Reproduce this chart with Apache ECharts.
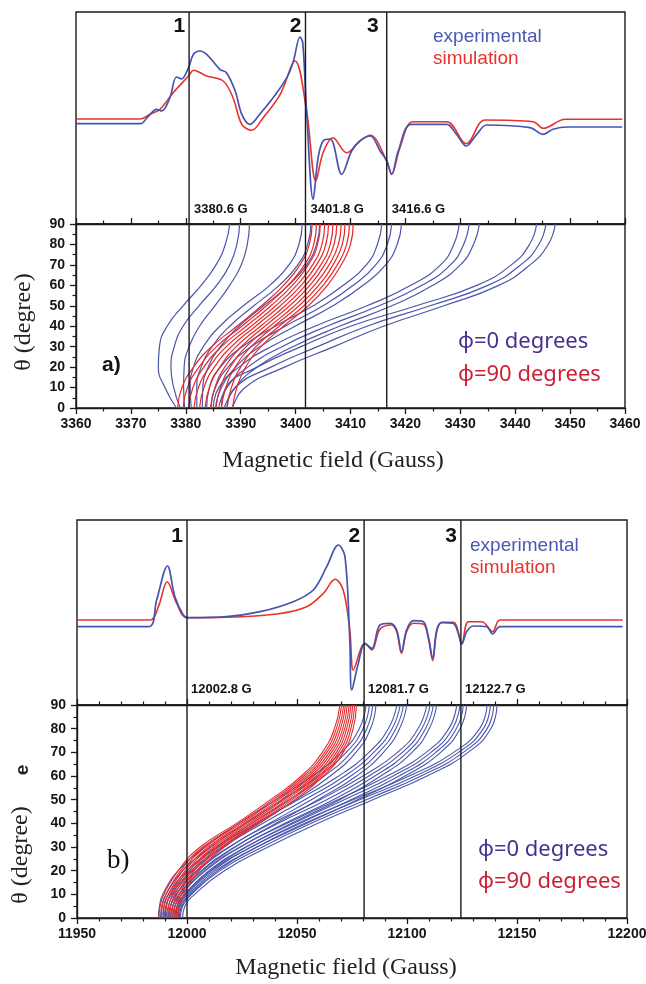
<!DOCTYPE html>
<html><head><meta charset="utf-8">
<script src="https://cdn.jsdelivr.net/npm/echarts@6/dist/echarts.min.js"></script>
<style>html,body{margin:0;padding:0;background:#fff}#c{width:646px;height:984px}</style>
</head><body><div id="c"></div>
<script>
// ---------- DATA ----------
// Panel a spectrum (field in G, intensity arb. units)
const specAExpField = [3360,3371.7,3373.2,3374.7,3375.6,3377.1,3378.3,3379.2,3380.5,3381.4,3382.6,3383.8,3386.2,3387.4,3389,3390.2,3391.7,3393.5,3395.9,3398.4,3399.6,3400.8,3401.3,3402.0,3403.2,3404.1,3405.0,3406.3,3408.4,3410.2,3411.7,3413.6,3415.4,3416.6,3417.5,3418.7,3421.1,3427.5,3429.3,3431.1,3433,3434.8,3442.7,3445.1,3446.9,3449.4,3459.5];
const specAExp = [100.3,100.3,108,114.7,113,126.3,147,145,156.3,169.7,173,169.7,154.7,151.3,133,109.7,99.7,110,126.3,146.3,163,187,181.3,113,24.7,66.3,83,85,49.7,73,83,88,73,63,49.7,73,99.7,99.7,89.7,78,89.7,99,96.3,89.7,94.7,97,97];
const specASimField = [3360,3371.7,3373.5,3375.3,3377.7,3380.5,3381.4,3383.8,3386.8,3388.6,3390.2,3392,3394.1,3397.2,3399.9,3402,3403.7,3405,3406.8,3409.3,3411.7,3413.6,3416.6,3417.5,3419,3421.4,3427.5,3431.1,3434.5,3443.3,3445.1,3449.1,3459.5];
const specASim = [105,105,109.7,114.7,131.3,148,153.7,148,143,126.3,99.7,93.7,106.3,129.7,163,113,43,71.3,86.3,71.3,83,88.7,63,49.7,76.3,102.3,102.3,80.3,104,102.3,95.7,104.7,104.7];

// Panel b spectrum
const specBExpField = [11950,11982.4,11986.2,11991.1,11994.5,11998.3,12000.6,12018,12033.2,12048.3,12057.4,12063.5,12068.8,12071.8,12074,12074.9,12077.9,12080.9,12084,12087.7,12092.3,12095.3,12097.5,12099.8,12102.9,12107.4,12109.7,12111.7,12113.5,12115.8,12121,12123.3,12124.9,12127.1,12130.1,12136.2,12138.9,12142.3,12198];
const specBExp = [78.3,78.3,105,139,108.3,90,87.3,88.3,93.3,103.3,115,138.3,160,148.3,65,15,42,61.7,56.7,80,81.7,75,53.3,75,84.3,83.3,68.3,46.7,75,82.3,81.7,71.7,61,73.3,79,78.3,71,78.3,78.3];
const specBSimField = [11950,11983.2,11987,11991,11995.3,11999.9,12018,12040.8,12054.4,12062,12067.3,12071,12074,12075.6,12079.4,12080.9,12084,12087.7,12093,12095.3,12097.5,12099.8,12102.9,12107.4,12109.7,12111.7,12113.5,12115.8,12121.3,12124.9,12127.9,12134,12138.9,12142.3,12198];
const specBSim = [85,85,98.3,123.3,101.7,87.3,87.7,91,98.3,111.7,125.7,115,75,35,58.3,61,55,75.7,80,73.3,51.7,73.3,81.7,81,66.7,44.3,73.3,82.7,82.7,61,83.3,83.3,73.3,85,85];

// Angular dependence: theta samples and resonance fields for each curve
const thetaA = [0,10,20,30,40,50,60,70,80,90];
const blueCurvesA = [
 [3378.3,3376.2,3375.0,3375.2,3376.6,3379.5,3382.8,3385.5,3387.2,3388.0],
 [3379.0,3377.8,3377.3,3377.9,3379.5,3382.4,3385.6,3388.0,3389.3,3389.8],
 [3379.8,3379.6,3379.7,3380.6,3382.5,3385.3,3388.0,3390.1,3391.2,3391.6],
 [3381.0,3380.8,3381.4,3383.2,3386.2,3390.5,3395.3,3398.8,3400.6,3401.2],
 [3382.0,3382.0,3382.8,3384.8,3388.0,3392.4,3397.0,3400.4,3402.2,3402.8],
 [3383.0,3383.1,3384.1,3386.3,3389.7,3394.2,3398.7,3402.0,3403.8,3404.4],
 [3383.8,3384.3,3386.3,3390.3,3396.3,3403.2,3408.7,3412.9,3414.9,3415.7],
 [3384.6,3385.4,3387.7,3391.9,3398.1,3405.0,3410.5,3414.6,3416.7,3417.5],
 [3385.4,3386.5,3389.1,3393.5,3399.9,3406.8,3412.3,3416.4,3418.5,3419.3],
 [3385.0,3386.0,3389.7,3395.5,3403.5,3413.0,3421.0,3426.4,3428.8,3429.8],
 [3386.0,3387.5,3391.3,3397.5,3405.7,3415.2,3423.0,3428.2,3430.6,3431.6],
 [3387.0,3389.0,3393.0,3399.5,3408.0,3417.5,3425.0,3430.0,3432.4,3433.5],
 [3386.5,3387.3,3393.0,3401.0,3410.0,3422.0,3433.0,3439.3,3442.6,3443.9],
 [3387.5,3389.0,3395.5,3404.0,3413.0,3424.5,3435.0,3441.0,3444.3,3445.6],
 [3388.5,3390.8,3398.0,3407.0,3416.0,3427.0,3437.0,3442.7,3446.0,3447.3]
];
const redCurvesA = [
 [3378.5,3379.3,3381.4,3384.7,3389.3,3393.8,3397.8,3400.8,3402.5,3403.0],
 [3379.5,3380.3,3382.4,3385.6,3390.2,3394.7,3398.6,3401.6,3403.3,3403.8],
 [3380.5,3381.3,3383.3,3386.5,3391.0,3395.5,3399.4,3402.3,3404.0,3404.5],
 [3381.5,3382.3,3384.3,3387.4,3391.9,3396.4,3400.2,3403.1,3404.8,3405.3],
 [3382.5,3383.3,3385.2,3388.3,3392.7,3397.2,3401.0,3403.8,3405.5,3406.0],
 [3383.5,3384.3,3386.2,3389.2,3393.6,3398.1,3401.8,3404.6,3406.3,3406.8],
 [3384.5,3385.3,3387.1,3390.1,3394.4,3398.9,3402.6,3405.3,3407.0,3407.5],
 [3385.5,3386.3,3388.1,3391.0,3395.3,3399.8,3403.4,3406.1,3407.8,3408.3],
 [3386.5,3387.3,3389.0,3391.9,3396.1,3400.6,3404.2,3406.8,3408.5,3409.0],
 [3387.5,3388.3,3390.0,3392.8,3397.0,3401.5,3405.0,3407.6,3409.3,3409.8],
 [3388.5,3389.3,3390.9,3393.7,3397.8,3402.3,3405.8,3408.3,3410.0,3410.5]
];

const thetaB = [0,5,10,20,30,40,50,60,70,80,90];
const blueCurvesB = [
 [11987.0,11987.5,11989.0,11996.0,12008.1,12023.5,12040.5,12057.0,12070.2,12078.3,12081.4],
 [11988.0,11988.5,11990.4,11998.0,12010.7,12026.5,12043.5,12059.7,12072.4,12080.0,12082.9],
 [11989.0,11989.5,11991.6,12000.0,12013.3,12029.5,12046.5,12062.4,12074.6,12081.7,12084.4],
 [11990.0,11990.5,11993.0,12002.0,12015.9,12032.5,12049.5,12065.1,12076.8,12083.4,12085.9],
 [11989.5,11990.5,11992.5,12001.0,12014.1,12031.5,12050.5,12069.0,12082.7,12091.5,12095.4],
 [11990.5,11991.5,11993.9,12003.0,12016.7,12034.5,12053.5,12071.7,12084.9,12093.2,12096.9],
 [11991.5,11992.5,11995.2,12005.0,12019.3,12037.5,12056.5,12074.4,12087.1,12094.9,12098.4],
 [11992.5,11993.5,11996.5,12007.0,12021.9,12040.5,12059.5,12077.1,12089.3,12096.6,12099.9],
 [11991.5,11992.5,11995.0,12004.5,12019.1,12038.5,12060.5,12080.0,12095.7,12105.0,12109.0],
 [11992.5,11993.5,11996.4,12006.5,12021.7,12041.5,12063.5,12082.7,12097.9,12106.7,12110.5],
 [11993.5,11994.5,11997.6,12008.5,12024.3,12044.5,12066.5,12085.4,12100.1,12108.4,12112.0],
 [11994.5,11995.5,11999.0,12010.5,12026.9,12047.5,12069.5,12088.1,12102.3,12110.1,12113.5],
 [11993.5,11994.5,11997.5,12008.0,12024.1,12045.5,12068.5,12091.0,12108.7,12119.0,12122.6],
 [11994.5,11995.5,11998.9,12010.0,12026.7,12048.5,12071.5,12093.7,12110.9,12120.7,12124.1],
 [11995.5,11996.5,12000.1,12012.0,12029.3,12051.5,12074.5,12096.4,12113.1,12122.4,12125.6],
 [11996.5,11997.5,12001.5,12014.0,12031.9,12054.5,12077.5,12099.1,12115.3,12124.1,12127.1],
 [11995.0,11996.0,11999.5,12011.0,12029.1,12050.5,12075.5,12101.0,12121.2,12133.0,12136.4],
 [11996.0,11997.0,12000.9,12013.0,12031.7,12053.5,12078.5,12103.7,12123.4,12134.7,12137.9],
 [11997.0,11998.0,12002.1,12015.0,12034.3,12056.5,12081.5,12106.4,12125.6,12136.4,12139.4],
 [11998.0,11999.0,12003.5,12017.0,12036.9,12059.5,12084.5,12109.1,12127.8,12138.1,12140.9]
];
const redCurvesB = [
 [11987.3,11987.8,11989.5,11996.0,12006.0,12022.5,12038.0,12052.0,12061.5,12067.0,12069.5],
 [11988.3,11988.8,11990.5,11997.1,12007.2,12023.7,12039.2,12053.1,12062.6,12067.9,12070.3],
 [11989.2,11989.7,11991.5,11998.1,12008.4,12024.8,12040.4,12054.2,12063.6,12068.9,12071.2],
 [11990.2,11990.7,11992.5,11999.2,12009.7,12026.0,12041.7,12055.3,12064.7,12069.8,12072.0],
 [11991.2,11991.7,11993.5,12000.2,12010.9,12027.2,12042.9,12056.4,12065.7,12070.8,12072.8],
 [11992.1,11992.6,11994.5,12001.3,12012.1,12028.3,12044.1,12057.6,12066.8,12071.7,12073.7],
 [11993.1,11993.6,11995.5,12002.4,12013.3,12029.5,12045.3,12058.7,12067.9,12072.6,12074.5],
 [11994.1,11994.6,11996.5,12003.4,12014.6,12030.7,12046.6,12059.8,12068.9,12073.6,12075.3],
 [11995.0,11995.5,11997.5,12004.5,12015.8,12031.8,12047.8,12060.9,12070.0,12074.5,12076.2],
 [11996.0,11996.5,11998.5,12005.5,12017.0,12033.0,12049.0,12062.0,12071.0,12075.5,12077.0]
];

// Marker lines and their labels
const linesA = [3380.6, 3401.8, 3416.6];
const lineLabelsA = ['3380.6 G', '3401.8 G', '3416.6 G'];
const linesB = [12000, 12080.5, 12124.5];
const lineLabelsB = ['12002.8 G', '12081.7 G', '12122.7 G'];
const peakNames = ['1', '2', '3'];

// ---------- STYLE ----------
const C_BLUE = '#4654b0', C_RED = '#e8322c';
const C_TBLUE = '#4a56aa', C_TRED = '#e62a2c';
const AX = '#1a1a1a';
const tickFont = {fontFamily:'Liberation Sans', fontSize:14, fontWeight:'bold', color:'#151515', formatter:function(v){return String(v);}};

const chart = echarts.init(document.getElementById('c'), null, {renderer:'canvas'});

function zipXY(xs, ys){ return xs.map((x,i)=>[x, ys[i]]); }
function curveData(fields, thetas){ return fields.map((f,i)=>[f, thetas[i]]); }

function bottomAxis(grid, min, max, interval, minorSplit){
  return {type:'value', gridIndex:grid, min:min, max:max, interval:interval, position:'bottom',
    axisLine:{show:true, onZero:false, lineStyle:{color:AX, width:1.4}},
    axisTick:{show:true, inside:false, length:6, lineStyle:{color:AX, width:1.3}},
    minorTick:{show:true, splitNumber:minorSplit, length:3.5, lineStyle:{color:AX, width:1.2}},
    axisLabel:Object.assign({margin:9, showMinLabel:true, showMaxLabel:true, hideOverlap:false}, tickFont),
    splitLine:{show:false}};
}
function topAxis(grid, min, max, interval, minorSplit){
  return {type:'value', gridIndex:grid, min:min, max:max, interval:interval, position:'top',
    axisLine:{show:true, onZero:false, lineStyle:{color:AX, width:1.4}},
    axisTick:{show:true, inside:false, length:6, lineStyle:{color:AX, width:1.3}},
    minorTick:{show:true, splitNumber:minorSplit, length:3.5, lineStyle:{color:AX, width:1.2}},
    axisLabel:{show:false}, splitLine:{show:false}};
}
function hiddenX(grid, min, max){ return {type:'value', gridIndex:grid, min:min, max:max, show:false, splitLine:{show:false}}; }
function hiddenY(grid, min, max){ return {type:'value', gridIndex:grid, min:min, max:max, show:false, splitLine:{show:false}}; }
function thetaAxis(grid){
  return {type:'value', gridIndex:grid, min:0, max:90, interval:10,
    axisLine:{show:true, onZero:false, lineStyle:{color:AX, width:1.4}},
    axisTick:{show:true, inside:false, length:6, lineStyle:{color:AX, width:1.3}},
    minorTick:{show:true, splitNumber:2, length:3.5, lineStyle:{color:AX, width:1.2}},
    axisLabel:Object.assign({margin:11}, tickFont), splitLine:{show:false}};
}

const gridBox = {show:true, borderColor:AX, borderWidth:1.4, backgroundColor:'transparent', containLabel:false, outerBoundsMode:'none'};
const series = [];
function addLine(xi, yi, data, color, width, smooth, z){
  series.push({type:'line', xAxisIndex:xi, yAxisIndex:yi, data:data, symbol:'none', showSymbol:false,
    smooth:smooth, lineStyle:{color:color, width:width}, silent:true, z:z||2, animation:false});
}

// spectra
addLine(0,0, zipXY(specASimField, specASim), C_RED, 1.6, 0.35, 3);
addLine(0,0, zipXY(specAExpField, specAExp), C_BLUE, 1.7, 0.35, 3);
addLine(3,2, zipXY(specBSimField, specBSim), C_RED, 1.6, 0.35, 3);
addLine(3,2, zipXY(specBExpField, specBExp), C_BLUE, 1.7, 0.35, 3);
// angular curves
blueCurvesA.forEach(c=>addLine(1,1, curveData(c, thetaA), C_TBLUE, 1.2, 0.5, 2));
redCurvesA.forEach(c=>addLine(1,1, curveData(c, thetaA), C_TRED, 1.2, 0.5, 3));
blueCurvesB.forEach(c=>addLine(4,3, curveData(c, thetaB), C_TBLUE, 1.1, 0.5, 2));
redCurvesB.forEach(c=>addLine(4,3, curveData(c, thetaB), C_TRED, 1.1, 0.5, 3));
// vertical marker lines
linesA.forEach(x=>{ addLine(0,0, [[x,0],[x,212]], AX, 1.4, false, 5); addLine(1,1, [[x,0],[x,90]], AX, 1.4, false, 5); });
linesB.forEach(x=>{ addLine(3,2, [[x,0],[x,185]], AX, 1.4, false, 5); addLine(4,3, [[x,0],[x,90]], AX, 1.4, false, 5); });

chart.setOption({
  animation:false,
  backgroundColor:'#ffffff',
  grid:[
    Object.assign({left:76, top:12, width:549, height:212}, gridBox),
    Object.assign({left:76, top:224, width:549, height:184}, gridBox),
    Object.assign({left:77, top:520, width:550, height:185}, gridBox),
    Object.assign({left:77, top:705, width:550, height:213}, gridBox)
  ],
  xAxis:[
    hiddenX(0, 3360, 3460),
    bottomAxis(1, 3360, 3460, 10, 2),
    topAxis(1, 3360, 3460, 10, 2),
    hiddenX(2, 11950, 12200),
    bottomAxis(3, 11950, 12200, 50, 5),
    topAxis(3, 11950, 12200, 50, 5)
  ],
  yAxis:[
    hiddenY(0, 0, 212),
    thetaAxis(1),
    hiddenY(2, 0, 185),
    thetaAxis(3)
  ],
  series:series
});

// ---------- TEXT ----------
const g = [];
function txt(x, y, text, font, fill, align, vAlign, rot){
  g.push({type:'text', x:x, y:y, rotation:rot||0, z:100, silent:true,
    style:{text:text, font:font, fill:fill, align:align||'left', verticalAlign:vAlign||'middle',
           textAlign:align||'left', textVerticalAlign:vAlign||'middle'}});
}
const numFont = 'bold 21px "Liberation Sans"';
const lblFont = 'bold 13px "Liberation Sans"';
linesA.forEach((x,i)=>{
  const top = chart.convertToPixel({xAxisIndex:0, yAxisIndex:0}, [x, 212]);
  const bot = chart.convertToPixel({xAxisIndex:0, yAxisIndex:0}, [x, 0]);
  txt(top[0]-(i===2?8:4), top[1]+14, peakNames[i], numFont, '#111', 'right');
  txt(bot[0]+5, bot[1]-15, lineLabelsA[i], lblFont, '#111', 'left');
});
linesB.forEach((x,i)=>{
  const top = chart.convertToPixel({xAxisIndex:3, yAxisIndex:2}, [x, 185]);
  const bot = chart.convertToPixel({xAxisIndex:3, yAxisIndex:2}, [x, 0]);
  txt(top[0]-4, top[1]+16, peakNames[i], numFont, '#111', 'right');
  txt(bot[0]+4, bot[1]-16, lineLabelsB[i], lblFont, '#111', 'left');
});
const legFont = '19px "Liberation Sans"';
txt(433, 37, 'experimental', legFont, '#4a58b6');
txt(433, 59, 'simulation', legFont, '#e8322c');
txt(470, 546, 'experimental', legFont, '#4a58b6');
txt(470, 568, 'simulation', legFont, '#e8322c');
const phiFont = '22px "Noto Sans"';
txt(458, 342, 'ϕ=0 degrees', phiFont, '#48308f');
txt(458, 375, 'ϕ=90 degrees', phiFont, '#cc1f33');
txt(478, 850, 'ϕ=0 degrees', phiFont, '#48308f');
txt(478, 882, 'ϕ=90 degrees', phiFont, '#cc1f33');
txt(102, 365, 'a)', 'bold 21px "Liberation Sans"', '#111');
txt(107, 861, 'b)', '27px "Liberation Serif"', '#111');
const titleFont = '24px "Liberation Serif"';
txt(333, 461, 'Magnetic field (Gauss)', titleFont, '#222', 'center');
txt(346, 968, 'Magnetic field (Gauss)', titleFont, '#222', 'center');
txt(24, 322, 'θ (degree)', titleFont, '#222', 'center', 'middle', Math.PI/2);
txt(21, 855, 'θ (degree)', titleFont, '#222', 'center', 'middle', Math.PI/2);
txt(23, 770, 'e', 'bold 19px "Liberation Sans"', '#222', 'center', 'middle', Math.PI/2);
chart.setOption({graphic:g});
</script></body></html>
